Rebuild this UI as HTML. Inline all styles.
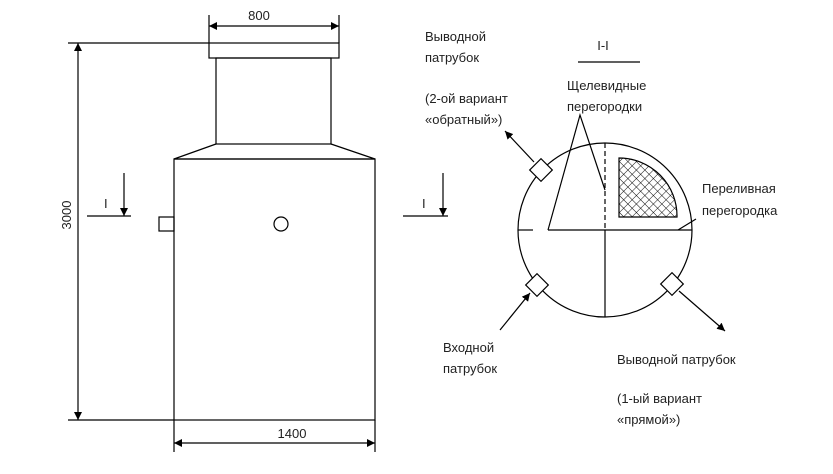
<!DOCTYPE html>
<html><head><meta charset="utf-8"><style>
html,body{margin:0;padding:0;background:#fff;}
svg{display:block;}
text{font-family:"Liberation Sans","DejaVu Sans",sans-serif;font-size:13px;fill:#222;}
</style></head><body>
<svg width="833" height="474" viewBox="0 0 833 474" xmlns="http://www.w3.org/2000/svg">
<defs>
<marker id="ar" viewBox="0 0 10 10" refX="10" refY="5" markerWidth="8" markerHeight="8" orient="auto-start-reverse" markerUnits="userSpaceOnUse"><path d="M0,0 L10,5 L0,10 z" fill="#000"/></marker>
<pattern id="hat" width="6" height="6" patternUnits="userSpaceOnUse" patternTransform="rotate(45)"><rect width="6" height="6" fill="#fff"/><path d="M0,0 V6 M0,0 H6" stroke="#000" stroke-width="0.9"/></pattern>
</defs>
<g stroke="#000" stroke-width="1.2" fill="none">
<!-- tank -->
<rect x="209" y="43" width="130" height="15"/>
<rect x="216" y="58" width="115" height="86"/>
<path d="M216,144 L174,159 L375,159 L331,144"/>
<rect x="174" y="159" width="201" height="261"/>
<rect x="159" y="217" width="15" height="14"/>
<circle cx="281" cy="224" r="7"/>
<!-- dims -->
<line x1="68" y1="43" x2="209" y2="43"/>
<line x1="68" y1="420" x2="174" y2="420"/>
<line x1="78" y1="420" x2="78" y2="43" marker-end="url(#ar)" marker-start="url(#ar)"/>
<line x1="209" y1="15" x2="209" y2="43"/>
<line x1="339" y1="15" x2="339" y2="43"/>
<line x1="209" y1="26" x2="339" y2="26" marker-end="url(#ar)" marker-start="url(#ar)"/>
<line x1="174" y1="420" x2="174" y2="452"/>
<line x1="375" y1="420" x2="375" y2="452"/>
<line x1="174" y1="443" x2="375" y2="443" marker-end="url(#ar)" marker-start="url(#ar)"/>
<!-- section marks -->
<line x1="87" y1="216" x2="131" y2="216"/>
<line x1="124" y1="173" x2="124" y2="216" marker-end="url(#ar)"/>
<line x1="403" y1="216" x2="448" y2="216"/>
<line x1="443" y1="173" x2="443" y2="216" marker-end="url(#ar)"/>
<!-- section view -->
<line x1="578" y1="62" x2="640" y2="62"/>
<circle cx="605" cy="230" r="87"/>
<path d="M619,158 A58,58 0 0 1 677,217 L619,217 Z" fill="url(#hat)"/>
<line x1="518" y1="230" x2="533" y2="230"/>
<line x1="548" y1="230" x2="692" y2="230"/>
<line x1="605" y1="230" x2="605" y2="317"/>
<line x1="605" y1="143" x2="605" y2="230" stroke-dasharray="5,3"/>
<path d="M548,230 L580,115 L605,190"/>
<line x1="678" y1="230" x2="696" y2="219"/>
<rect x="533" y="162" width="16" height="16" transform="rotate(45 541 170)" fill="#fff"/>
<rect x="529" y="277" width="16" height="16" transform="rotate(45 537 285)" fill="#fff"/>
<rect x="664" y="276" width="16" height="16" transform="rotate(45 672 284)" fill="#fff"/>
<line x1="534" y1="162" x2="505" y2="131" marker-end="url(#ar)"/>
<line x1="500" y1="330" x2="530" y2="293" marker-end="url(#ar)"/>
<line x1="679" y1="291" x2="725" y2="331" marker-end="url(#ar)"/>
</g>
<text x="259" y="20" text-anchor="middle">800</text>
<text x="292" y="438" text-anchor="middle">1400</text>
<text transform="translate(71,215) rotate(-90)" text-anchor="middle">3000</text>
<text x="104" y="208">I</text>
<text x="422" y="208">I</text>
<text x="603" y="50" text-anchor="middle">I-I</text>
<text x="425" y="41">Выводной</text>
<text x="425" y="62">патрубок</text>
<text x="425" y="103">(2-ой вариант</text>
<text x="425" y="124">«обратный»)</text>
<text x="567" y="90">Щелевидные</text>
<text x="567" y="111">перегородки</text>
<text x="702" y="193">Переливная</text>
<text x="702" y="215">перегородка</text>
<text x="443" y="352">Входной</text>
<text x="443" y="373">патрубок</text>
<text x="617" y="364">Выводной патрубок</text>
<text x="617" y="403">(1-ый вариант</text>
<text x="617" y="424">«прямой»)</text>
</svg>
</body></html>
